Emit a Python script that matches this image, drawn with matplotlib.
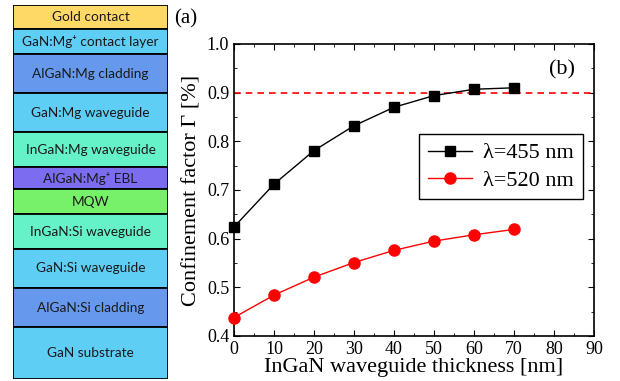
import numpy as np
import matplotlib
matplotlib.use("Agg")
from matplotlib import pyplot as plt
from matplotlib.ticker import MultipleLocator

# layer stack (top to bottom), schematic heights
layers = ["Gold contact", "GaN:Mg⁺ contact layer", "AlGaN:Mg cladding",
          "GaN:Mg waveguide", "InGaN:Mg waveguide", "AlGaN:Mg⁺ EBL", "MQW",
          "InGaN:Si waveguide", "GaN:Si waveguide", "AlGaN:Si cladding", "GaN substrate"]
layer_h = [24, 25, 39, 39, 35, 22, 25, 35, 39, 39, 52]
layer_col = ["#FFD966", "#5ECEF5", "#6699EE", "#5ECEF5", "#66F2C8", "#7B6CF0",
             "#77F06A", "#66F2C8", "#5ECEF5", "#6699EE", "#5ECEF5"]

thick = [0, 10, 20, 30, 40, 50, 60, 70]
gamma_455 = [0.624, 0.712, 0.781, 0.832, 0.870, 0.894, 0.907, 0.910]
gamma_520 = [0.438, 0.484, 0.521, 0.551, 0.576, 0.595, 0.608, 0.619]

serif = "Liberation Serif"
fig = plt.figure(figsize=(6.2, 3.81), dpi=100)

# (a) layer schematic
axa = fig.add_axes([13/620, 2/381, 155/620, 374/381])
tot = sum(layer_h)
bottoms = tot - np.cumsum(layer_h)
axa.bar([0.5]*len(layers), layer_h, bottom=bottoms, width=1.0, color=layer_col,
        edgecolor="black", linewidth=1.3)
for name, h, b in zip(layers, layer_h, bottoms):
    axa.text(0.5, b + h/2, name, ha="center", va="center", fontsize=9.8,
             family=["Lato", "DejaVu Sans"], color="#1a1a1a")
axa.set_xlim(0, 1)
axa.set_ylim(0, tot)
axa.axis("off")
fig.text(174/620, 1 - 19/381, "(a)", fontsize=15, family=serif, ha="left", va="center")

# (b) confinement factor
ax = fig.add_axes([234/620, 45/381, 360/620, 292/381])
ax.axhline(0.9, color="red", ls=(0, (4, 3)), lw=1.2)
ax.plot(thick, gamma_455, "-s", color="black", lw=1, ms=7, label="λ=455 nm", clip_on=False, zorder=3)
ax.plot(thick, gamma_520, "-o", color="red", lw=1, ms=8, label="λ=520 nm", clip_on=False, zorder=3)
ax.set_xlim(0, 90)
ax.set_ylim(0.4, 1.0)
ax.xaxis.set_major_locator(MultipleLocator(10))
ax.xaxis.set_minor_locator(MultipleLocator(5))
ax.yaxis.set_major_locator(MultipleLocator(0.1))
ax.yaxis.set_minor_locator(MultipleLocator(0.05))
ax.tick_params(which="both", direction="in", top=True, right=True, labelsize=13)
ax.tick_params(which="major", length=4)
ax.tick_params(which="minor", length=2)
for lab in ax.get_xticklabels() + ax.get_yticklabels():
    lab.set_family(serif)
for s in ax.spines.values():
    s.set_linewidth(1.2)
ax.set_xlabel("InGaN waveguide thickness [nm]", fontsize=16, family=serif, labelpad=0)
ax.set_ylabel("Confinement factor Γ [%]", fontsize=16, family=serif, labelpad=4)
ax.text(0.91, 0.91, "(b)", transform=ax.transAxes, fontsize=16, family=serif, ha="center", va="center")
leg = ax.legend(loc="upper left", bbox_to_anchor=(0.514, 0.692), borderaxespad=0,
                fancybox=False, edgecolor="black", prop={"family": serif, "size": 16},
                handlelength=2.0, handletextpad=0.5, borderpad=0.4, labelspacing=0.3,
                framealpha=1)
leg.get_frame().set_linewidth(1)

fig.savefig("out.png", dpi=100)
